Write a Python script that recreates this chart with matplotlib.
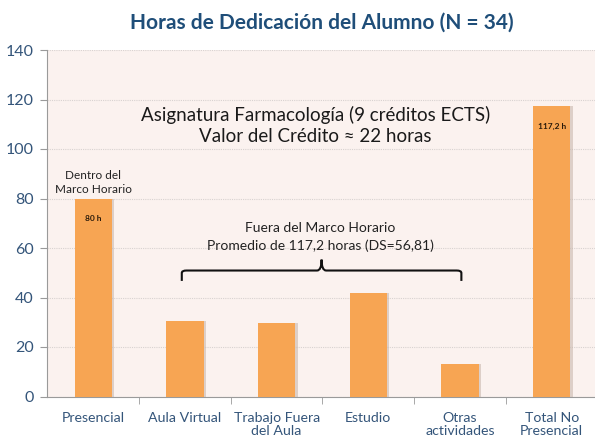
import numpy as np
import matplotlib
matplotlib.use('Agg')
import matplotlib.pyplot as plt
from matplotlib.path import Path
from matplotlib.patches import PathPatch

plt.rcParams['font.family'] = ['Lato', 'DejaVu Sans']

categories = ['Presencial', 'Aula Virtual', 'Trabajo Fuera\ndel Aula', 'Estudio',
              'Otras\nactividades', 'Total No\nPresencial']
hours = [80, 30.4, 29.8, 42, 13.1, 117.2]
bar_labels = {0: '80 h', 5: '117,2 h'}
title = 'Horas de Dedicación del Alumno (N = 34)'

bar_color = '#F7A553'
bg_color = '#FBF2EF'
text_blue = '#34557A'

fig = plt.figure(figsize=(5.95, 4.38), dpi=100)
ax = fig.add_axes([47.5 / 595, 1 - 396.5 / 438, 550 / 595, 346.5 / 438])
ax.set_facecolor(bg_color)

x = np.arange(len(categories))
# soft shadow on the right of each bar
ax.bar(x + 0.025, hours, width=0.41, color='#C9B8AE', alpha=0.6, zorder=2)
ax.bar(x, hours, width=0.41, color=bar_color, zorder=3)

ax.set_xlim(-0.5, len(categories) - 0.5)
ax.set_ylim(0, 140)
ax.set_yticks(np.arange(0, 141, 20))
ax.grid(axis='y', color='#D8D2D0', linestyle=(0, (1, 1)), linewidth=0.8, zorder=0)

ax.set_xticks(x, categories)
ax.set_xticks(np.arange(0.5, len(categories) - 1, 1), minor=True)
ax.tick_params(axis='x', which='major', length=0, pad=11, labelsize=10.2, labelcolor=text_blue)
ax.tick_params(axis='x', which='minor', length=5, color='#9A9A9A', direction='out')
ax.tick_params(axis='y', length=5, color='#9A9A9A', labelsize=11.5, labelcolor=text_blue, pad=5)
for lab in ax.get_xticklabels():
    lab.set_linespacing(1.15)

for s in ['top', 'right']:
    ax.spines[s].set_visible(False)
for s in ['left', 'bottom']:
    ax.spines[s].set_color('#9A9A9A')
    ax.spines[s].set_linewidth(0.8)

for i, lab in bar_labels.items():
    ax.text(x[i], hours[i] - 8, lab, ha='center', va='center', fontsize=6,
            fontweight='bold', color='#2A1A0A', zorder=4)

fig.text(322 / 595, 1 - 23 / 438, title, ha='center', va='center', fontsize=15,
         fontweight='bold', color='#1F4E79')

ax.text(2.42, 109.5, 'Asignatura Farmacología (9 créditos ECTS)\nValor del Crédito ≈ 22 horas',
        ha='center', va='center', fontsize=13.5, color='#1A1A1A', linespacing=1.3, zorder=5)
ax.text(0, 86.5, 'Dentro del\nMarco Horario', ha='center', va='center', fontsize=8.5,
        color='#222222', linespacing=1.35, zorder=5)
ax.text(2.48, 64.5, 'Fuera del Marco Horario\nPromedio de 117,2 horas (DS=56,81)',
        ha='center', va='center', fontsize=10, color='#222222', linespacing=1.45, zorder=5)

# curly brace over the non-presential activities
x0, x1, xm = 0.965, 4.015, 2.49
yt, yh, yb = 55.3, 50.9, 46.7
r = 0.05
verts = [(x0, yb), (x0, yh - 1), (x0, yh), (x0 + r, yh),
         (xm - r, yh), (xm, yh), (xm, yt),
         (xm, yh), (xm + r, yh),
         (x1 - r, yh), (x1, yh), (x1, yh - 1), (x1, yb)]
codes = [Path.MOVETO, Path.LINETO, Path.CURVE3, Path.CURVE3,
         Path.LINETO, Path.CURVE3, Path.CURVE3,
         Path.CURVE3, Path.CURVE3,
         Path.LINETO, Path.CURVE3, Path.CURVE3, Path.LINETO]
ax.add_patch(PathPatch(Path(verts, codes), fill=False, lw=1.5, color='#111111', zorder=5))

fig.savefig('out.png', dpi=100)
